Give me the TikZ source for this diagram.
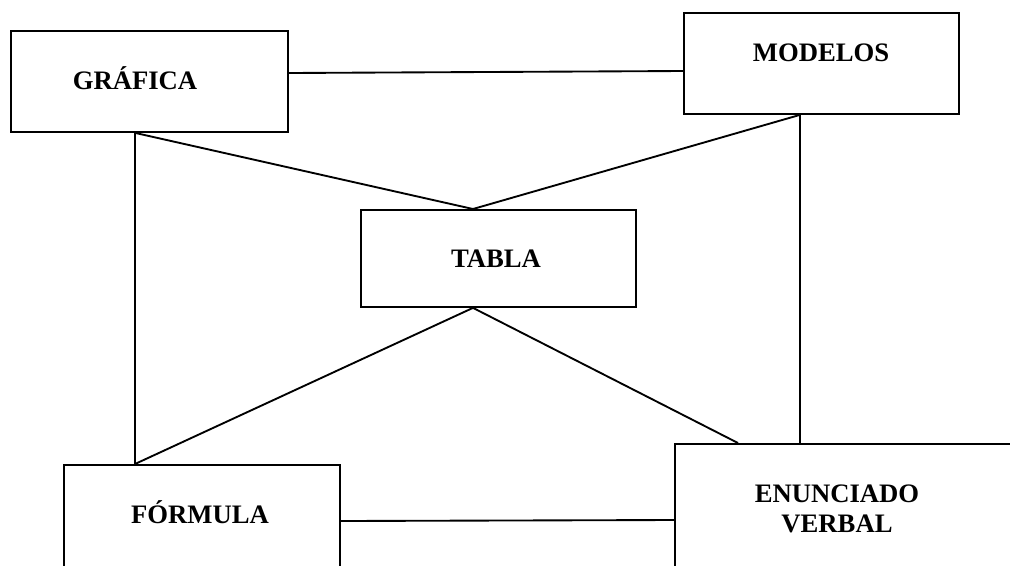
\documentclass[tikz,border=0pt]{standalone}
\usepackage{fontspec}
\setmainfont{Liberation Serif}
\usetikzlibrary{positioning,calc}
\tikzset{
  box/.style={draw,line width=1.4pt,inner sep=0pt,anchor=north west},
  boxText/.style={font=\fontsize{20}{22.5}\selectfont\bfseries,align=center,inner sep=0pt},
  link/.style={line width=1.4pt},
}

\begin{document}
\begin{tikzpicture}[x=0.75pt,y=-0.75pt]
\useasboundingbox (0,0) rectangle (1010,565);
\clip (0,0) rectangle (1010,565);

% ===== Boxes =====
\node[box,minimum width=207.75pt,minimum height=75.75pt] (grafica) at (10,30) {};
\node[box,minimum width=206.25pt,minimum height=75.75pt] (modelos) at (683,12) {};
\node[box,minimum width=206.25pt,minimum height=72.75pt] (tabla) at (360,209) {};
\node[box,minimum width=207pt,minimum height=117pt] (formula) at (63,464) {};
\node[box,minimum width=289.5pt,minimum height=132.75pt] (enunciado) at (674,443) {};

% ===== Labels =====
\node[boxText,anchor=base] (graficaText) at (135,89) {GRÁFICA};
\node[boxText,anchor=base] (modelosText) at (821,61) {MODELOS};
\node[boxText,anchor=base] (tablaText) at (496,267) {TABLA};
\node[boxText,anchor=base] (formulaText) at (200,523) {FÓRMULA};
\node[boxText] (enunciadoText) at (837,509) {ENUNCIADO\\VERBAL};

% ===== Ports =====
\coordinate (graficaE) at ($(grafica.north east)+(0,43)$);
\coordinate (graficaS) at ($(grafica.south west)+(125,0)$);
\coordinate (modelosW) at ($(modelos.north west)+(0,59)$);
\coordinate (modelosS) at ($(modelos.south west)+(117,0)$);
\coordinate (tablaN) at ($(tabla.north west)+(113,0)$);
\coordinate (tablaS) at ($(tabla.south west)+(113,0)$);
\coordinate (formulaN) at ($(formula.north west)+(72,0)$);
\coordinate (formulaE) at ($(formula.north east)+(0,57)$);
\coordinate (enunciadoN) at ($(enunciado.north west)+(64,0)$);
\coordinate (enunciadoM) at ($(enunciado.north west)+(126,0)$);
\coordinate (enunciadoW) at ($(enunciado.north west)+(0,77)$);

% ===== Connections =====
\draw[link] (graficaE) -- (modelosW);
\draw[link] (graficaS) -- (tablaN) -- (modelosS);
\draw[link] (graficaS) -- (formulaN);
\draw[link] (modelosS) -- (enunciadoM);
\draw[link] (formulaN) -- (tablaS) -- (enunciadoN);
\draw[link] (formulaE) -- (enunciadoW);

\end{tikzpicture}
\end{document}
